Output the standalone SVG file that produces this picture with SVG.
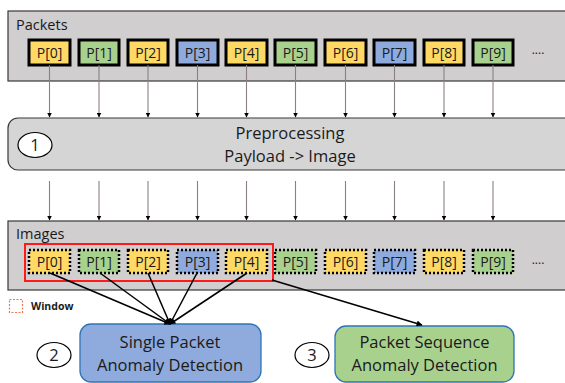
<svg xmlns="http://www.w3.org/2000/svg" width="565" height="383" viewBox="0 0 565 383">
<defs>
<style>
text{font-family:"Open Sans","Noto Sans",sans-serif;fill:#1a1a1a}
.panel{fill:#d0cece;stroke:#3a3838;stroke-width:1.2}
.pk{stroke:#000;stroke-width:3}
.im{stroke:#000;stroke-width:2.5;stroke-dasharray:2 2}
.y{fill:#ffd966}.g{fill:#a9d18e}.b{fill:#8faadc}
.pl{font-size:14px;text-anchor:middle}
.big{font-size:16.5px;text-anchor:middle}
.arr{stroke:#8a8080;stroke-width:1.1;fill:none;marker-end:url(#ah)}
.sel{stroke:#000;stroke-width:1.5;fill:none;marker-end:url(#ah2)}
.num{fill:#fff;stroke:#000;stroke-width:1.2}
.det{stroke:#2e75b6;stroke-width:1.3}
</style>
<marker id="ah" viewBox="0 0 10 10" refX="9" refY="5" markerWidth="5" markerHeight="5" orient="auto" markerUnits="userSpaceOnUse"><path d="M0,0 L10,5 L0,10 z" fill="#000"/></marker>
<marker id="ah2" viewBox="0 0 10 10" refX="9" refY="5" markerWidth="7" markerHeight="6" orient="auto" markerUnits="userSpaceOnUse"><path d="M0,0 L10,5 L0,10 z" fill="#000"/></marker>
</defs>
<g id="packets">
<rect class="panel" x="8" y="11" width="562" height="70"/>
<text x="16" y="30" font-size="14.5px">Packets</text>
<rect class="pk y" x="29" y="40" width="41" height="25"/><text class="pl" x="49.5" y="57.5">P[0]</text>
<rect class="pk g" x="79" y="40" width="40" height="25"/><text class="pl" x="99" y="57.5">P[1]</text>
<rect class="pk y" x="128" y="40" width="40" height="25"/><text class="pl" x="148" y="57.5">P[2]</text>
<rect class="pk b" x="177" y="40" width="41" height="25"/><text class="pl" x="197.5" y="57.5">P[3]</text>
<rect class="pk y" x="226" y="40" width="41" height="25"/><text class="pl" x="246.5" y="57.5">P[4]</text>
<rect class="pk g" x="275" y="40" width="41" height="25"/><text class="pl" x="295.5" y="57.5">P[5]</text>
<rect class="pk y" x="325" y="40" width="41" height="25"/><text class="pl" x="345.5" y="57.5">P[6]</text>
<rect class="pk b" x="374" y="40" width="41" height="25"/><text class="pl" x="394.5" y="57.5">P[7]</text>
<rect class="pk y" x="424" y="40" width="40" height="25"/><text class="pl" x="444" y="57.5">P[8]</text>
<rect class="pk g" x="473" y="40" width="40" height="25"/><text class="pl" x="493" y="57.5">P[9]</text>
<text x="538" y="54" font-size="12px" text-anchor="middle">....</text>
</g>
<g id="preprocessing">
<rect x="8" y="118" width="570" height="52" rx="10" fill="#d6d5d5" stroke="#3a3838" stroke-width="1.2"/>
<ellipse class="num" cx="35" cy="145" rx="17" ry="12.5"/>
<text class="big" x="35" y="151">1</text>
<text class="big" x="290" y="139">Preprocessing</text>
<text class="big" x="290" y="162">Payload -&gt; Image</text>
</g>
<g id="images">
<rect class="panel" x="8" y="221" width="562" height="69"/>
<text x="16" y="239" font-size="14.5px">Images</text>
<rect class="im y" x="29" y="250" width="41" height="23"/><text class="pl" x="49.5" y="266.5">P[0]</text>
<rect class="im g" x="79" y="250" width="40" height="23"/><text class="pl" x="99" y="266.5">P[1]</text>
<rect class="im y" x="128" y="250" width="40" height="23"/><text class="pl" x="148" y="266.5">P[2]</text>
<rect class="im b" x="177" y="250" width="41" height="23"/><text class="pl" x="197.5" y="266.5">P[3]</text>
<rect class="im y" x="226" y="250" width="41" height="23"/><text class="pl" x="246.5" y="266.5">P[4]</text>
<rect class="im g" x="275" y="250" width="41" height="23"/><text class="pl" x="295.5" y="266.5">P[5]</text>
<rect class="im y" x="325" y="250" width="41" height="23"/><text class="pl" x="345.5" y="266.5">P[6]</text>
<rect class="im b" x="374" y="250" width="41" height="23"/><text class="pl" x="394.5" y="266.5">P[7]</text>
<rect class="im y" x="424" y="250" width="40" height="23"/><text class="pl" x="444" y="266.5">P[8]</text>
<rect class="im g" x="473" y="250" width="40" height="23"/><text class="pl" x="493" y="266.5">P[9]</text>
<text x="538" y="264" font-size="12px" text-anchor="middle">....</text>
</g>
<g id="window">
<rect x="25" y="244" width="248" height="37" fill="none" stroke="#ff1a1a" stroke-width="2"/>
</g>
<g id="legend">
<rect x="9.5" y="299.5" width="13" height="13" fill="none" stroke="#f4764a" stroke-width="1.2" stroke-dasharray="2 1.5"/>
<text x="31" y="310" font-size="10.5px" font-weight="bold">Window</text>
</g>
<g id="single">
<rect class="det b" x="80" y="324" width="181" height="58" rx="11"/>
<ellipse class="num" cx="54" cy="355" rx="17" ry="12.5"/>
<text class="big" x="54" y="361">2</text>
<text class="big" x="170" y="348">Single Packet</text>
<text class="big" x="170" y="371">Anomaly Detection</text>
</g>
<g id="sequence">
<rect class="det g" x="335" y="326" width="179" height="56" rx="11"/>
<ellipse class="num" cx="312" cy="355" rx="17" ry="12.5"/>
<text class="big" x="312" y="361">3</text>
<text class="big" x="424.5" y="348">Packet Sequence</text>
<text class="big" x="424.5" y="371">Anomaly Detection</text>
</g>
<g id="connectors">
<line class="arr" x1="49.5" y1="65" x2="49.5" y2="117"/>
<line class="arr" x1="99" y1="65" x2="99" y2="117"/>
<line class="arr" x1="148" y1="65" x2="148" y2="117"/>
<line class="arr" x1="197.5" y1="65" x2="197.5" y2="117"/>
<line class="arr" x1="246.5" y1="65" x2="246.5" y2="117"/>
<line class="arr" x1="295.5" y1="65" x2="295.5" y2="117"/>
<line class="arr" x1="345.5" y1="65" x2="345.5" y2="117"/>
<line class="arr" x1="394.5" y1="65" x2="394.5" y2="117"/>
<line class="arr" x1="444" y1="65" x2="444" y2="117"/>
<line class="arr" x1="493" y1="65" x2="493" y2="117"/>
<line class="arr" x1="49.5" y1="181" x2="49.5" y2="220"/>
<line class="arr" x1="99" y1="181" x2="99" y2="220"/>
<line class="arr" x1="148" y1="181" x2="148" y2="220"/>
<line class="arr" x1="197.5" y1="181" x2="197.5" y2="220"/>
<line class="arr" x1="246.5" y1="181" x2="246.5" y2="220"/>
<line class="arr" x1="295.5" y1="181" x2="295.5" y2="220"/>
<line class="arr" x1="345.5" y1="181" x2="345.5" y2="220"/>
<line class="arr" x1="394.5" y1="181" x2="394.5" y2="220"/>
<line class="arr" x1="444" y1="181" x2="444" y2="220"/>
<line class="arr" x1="493" y1="181" x2="493" y2="220"/>
<line class="sel" x1="50" y1="273" x2="170" y2="324"/>
<line class="sel" x1="100" y1="273" x2="170" y2="324"/>
<line class="sel" x1="148" y1="273" x2="170" y2="324"/>
<line class="sel" x1="197" y1="273" x2="170" y2="324"/>
<line class="sel" x1="247" y1="273" x2="170" y2="324"/>
<line class="sel" x1="272" y1="280" x2="422" y2="325"/>
</g>
</svg>
